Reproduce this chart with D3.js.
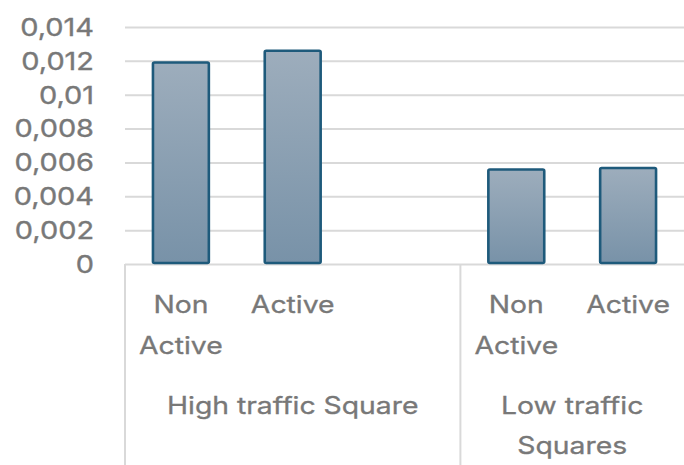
<!DOCTYPE html>
<html>
<head>
<meta charset="utf-8">
<script src="https://cdn.jsdelivr.net/npm/d3@7"></script>
<style>
  html, body { margin: 0; padding: 0; background: #fff; }
  svg { display: block; }
</style>
</head>
<body>
<svg id="chart" width="684" height="465"></svg>
<script>
// ---- data ----
const categories = ["Non Active", "Active", "", "Non Active", "Active"];
const groupNames = ["High traffic Square", "Low traffic Squares"];
const groupOfCategory = [0, 0, 0, 1, 1];
const values = [0.0119, 0.0126, null, 0.00558, 0.00567];
const yTicks = [0, 0.002, 0.004, 0.006, 0.008, 0.01, 0.012, 0.014];
const yTickLabels = ["0", "0,002", "0,004", "0,006", "0,008", "0,01", "0,012", "0,014"];

// ---- layout ----
const W = 684, H = 465;
const m = { left: 125, right: 0, top: 27, bottom: 201 };
const FONT = "Inter, 'Open Sans', sans-serif";
const SX = 1.18; // horizontal stretch of the reference's text
const textColor = "#787878";
const gridColor = "#d9d9d9";

const svg = d3.select("#chart");

const x = d3.scaleBand()
  .domain(d3.range(categories.length))
  .range([m.left, W - m.right])
  .paddingInner(0.5)
  .paddingOuter(0.25);
const step = x.step();

const y = d3.scaleLinear()
  .domain([0, 0.014])
  .range([H - m.bottom, m.top]);

// gradient
const defs = svg.append("defs");
const grad = defs.append("linearGradient")
  .attr("id", "barGrad").attr("x1", 0).attr("y1", 0).attr("x2", 0).attr("y2", 1);
grad.append("stop").attr("offset", "0%").attr("stop-color", "#9dadbc");
grad.append("stop").attr("offset", "100%").attr("stop-color", "#7892a8");

// gridlines
const yAxis = d3.axisLeft(y).tickValues(yTicks).tickSize(-(W - m.left - m.right))
  .tickFormat((d, i) => yTickLabels[i]);
const gy = svg.append("g").attr("transform", `translate(${m.left},0)`).call(yAxis);
gy.select(".domain").remove();
gy.selectAll(".tick line").attr("stroke", gridColor).attr("stroke-width", 2);
gy.selectAll(".tick text").remove();

// y tick labels (stretched)
svg.append("g").selectAll("text").data(yTicks).join("text")
  .attr("transform", d => `translate(94,${y(d)}) scale(${SX},1)`)
  .attr("dy", "0.36em")
  .attr("text-anchor", "end")
  .attr("font-family", FONT)
  .attr("font-size", 24.5)
  .attr("fill", textColor)
  .attr("stroke", textColor)
  .attr("stroke-width", 0.35)
  .text((d, i) => yTickLabels[i]);

// category divider lines
const y0 = y(0);
const boundaries = [0, 3];
svg.append("g").selectAll("line").data(boundaries).join("line")
  .attr("x1", d => m.left + d * step).attr("x2", d => m.left + d * step)
  .attr("y1", y0).attr("y2", H)
  .attr("stroke", gridColor).attr("stroke-width", 2);

// bars
svg.append("g").selectAll("rect")
  .data(values.map((v, i) => ({ v, i })).filter(d => d.v != null))
  .join("rect")
  .attr("x", d => x(d.i))
  .attr("width", x.bandwidth())
  .attr("y", d => y(d.v))
  .attr("height", d => y0 - y(d.v) - 1)
  .attr("rx", 1.5)
  .attr("fill", "url(#barGrad)")
  .attr("stroke", "#1e5a7b")
  .attr("stroke-width", 2.6);

// wrapped label helper
function wrapLabel(g, str, cx, cyFirst, maxW, lineH, size) {
  const words = str.split(/\s+/).filter(Boolean);
  const lines = [];
  let cur = [];
  const probe = g.append("text").attr("font-family", FONT).attr("font-size", size);
  words.forEach(w => {
    const trial = cur.concat([w]).join(" ");
    probe.text(trial);
    if (cur.length && probe.node().getComputedTextLength() * SX > maxW) {
      lines.push(cur.join(" "));
      cur = [w];
    } else cur.push(w);
  });
  if (cur.length) lines.push(cur.join(" "));
  probe.remove();
  lines.forEach((ln, k) => {
    g.append("text")
      .attr("transform", `translate(${cx},${cyFirst + k * lineH}) scale(${SX},1)`)
      .attr("dy", "0.36em")
      .attr("text-anchor", "middle")
      .attr("font-family", FONT)
      .attr("font-size", size)
      .attr("fill", textColor)
      .attr("stroke", textColor)
      .attr("stroke-width", 0.3)
      .text(ln);
  });
}

// category labels
const gl = svg.append("g");
categories.forEach((c, i) => {
  if (!c) return;
  wrapLabel(gl, c, x(i) + x.bandwidth() / 2, 304, step * 0.95, 41, 24);
});

// group labels
groupNames.forEach((gname, gi) => {
  const idx = d3.range(categories.length).filter(i => groupOfCategory[i] === gi);
  const left = m.left + idx[0] * step;
  const right = m.left + (idx[idx.length - 1] + 1) * step;
  wrapLabel(gl, gname, (left + right) / 2, 405, (right - left) * 0.8, 40, 24);
});
</script>
</body>
</html>
